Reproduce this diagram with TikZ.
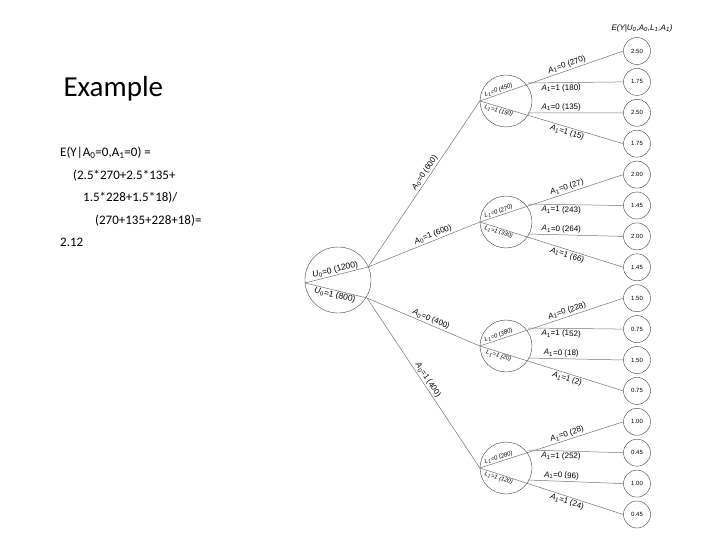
\documentclass[tikz,border=0pt]{standalone}
\usepackage{fontspec}
\setmainfont{Liberation Sans}
\newfontfamily\calibri{Carlito}
\usetikzlibrary{positioning}
\definecolor{linegray}{rgb}{0.45,0.45,0.45}
\newcommand{\Av}[1]{\textit{A}\textsubscript{#1}}
\newcommand{\Lv}[1]{\textit{L}\textsubscript{#1}}
\newcommand{\Uv}[1]{\textit{U}\textsubscript{#1}}
\begin{document}
\begin{tikzpicture}[x=1pt,y=-1pt,
    mid/.style={draw=black!75, circle, minimum size=52pt, inner sep=0pt},
    leaf/.style={draw=black!75, circle, minimum size=27pt, inner sep=0pt, font=\fontsize{6}{6}\selectfont},
    br/.style={draw=linegray, line width=0.5pt},
    lab/.style={font=\fontsize{8}{8}\selectfont, sloped, inner sep=1.5pt},
    inlab/.style={font=\fontsize{6}{6}\selectfont\itshape, sloped, inner sep=1pt}]
    \useasboundingbox (0,0) rectangle (720,540);
    % left text
    \node[anchor=base west, font=\calibri\fontsize{29}{29}\selectfont] at (60,97) {Example};
    \node[anchor=north west, font=\calibri\fontsize{13}{22.5}\selectfont, align=left, inner sep=0pt] at (60,147) {%
        E(Y|A\textsubscript{0}=0,A\textsubscript{1}=0) =\\
        \hspace*{13pt}(2.5*270+2.5*135+\\
        \hspace*{23pt}1.5*228+1.5*18)/\\
        \hspace*{35pt}(270+135+228+18)=\\
        2.12};
    % root
    \node[mid, minimum size=66pt] (root) at (338,280) {};
    \coordinate (rw) at (305,283);
    \coordinate (ru) at (368,267);
    \coordinate (rd) at (367,298);
    \draw[br] (rw) -- node[inlab, above, font=\fontsize{8.5}{8.5}\selectfont, pos=0.5] {\Uv{0}=0 (1200)} (ru);
    \draw[br] (rw) -- node[inlab, below, font=\fontsize{8.5}{8.5}\selectfont, pos=0.5] {\Uv{0}=1 (800)} (rd);
    % middle nodes
    \node[mid] (m1) at (506,101) {};
    \node[mid] (m2) at (506,222) {};
    \node[mid] (m3) at (506,346) {};
    \node[mid] (m4) at (506,468) {};
    \draw[br] (ru) -- node[lab, above, pos=0.55] {\Av{0}=0 (600)} (m1.west);
    \draw[br] (ru) -- node[lab, above, pos=0.6] {\Av{0}=1 (600)} (m2.west);
    \draw[br] (rd) -- node[lab, above, pos=0.55] {\Av{0}=0 (400)} (m3.west);
    \draw[br] (rd) -- node[lab, above, pos=0.5] {\Av{0}=1 (400)} (m4.west);
    % leaves
    \node[font=\fontsize{8}{8}\selectfont\itshape] at (642,28) {E(Y\textbar\Uv{0},\Av{0},\Lv{1},\Av{1})};
    \foreach \v [count=\i] in {2.50,1.75,2.50,1.75,2.00,1.45,2.00,1.45,1.50,0.75,1.50,0.75,1.00,0.45,1.00,0.45}
        \node[leaf] (l\i) at (637,{51+(\i-1)*30.9}) {\v};
    % second level
    \foreach \m/\a/\b/\c/\d/\na/\nb/\nc/\nd/\la/\lb in {%
        1/1/2/3/4/270/180/135/15/450/150,
        2/5/6/7/8/27/243/264/66/270/330,
        3/9/10/11/12/228/152/18/2/380/20,
        4/13/14/15/16/28/252/96/24/280/120}{
        \draw[br] (m\m.west) -- node[inlab, above, pos=0.14] {\Lv{1}=0 (\la)}
            node[lab, above, pos=0.62] {\Av{1}=0 (\na)} (l\a.west);
        \draw[br] (m\m.west) -- node[inlab, below, pos=0.14] {\Lv{1}=1 (\lb)}
            node[lab, below, pos=0.62] {\Av{1}=1 (\nd)} (l\d.west);
        \draw[br] (m\m.west) ++(48,-18) coordinate (h\m a) -- node[lab, below, pos=0.35] {\Av{1}=1 (\nb)} (l\b.west);
        \draw[br] (m\m.west) ++(48,12) coordinate (h\m b) -- node[lab, above, pos=0.35] {\Av{1}=0 (\nc)} (l\c.west);
    }
\end{tikzpicture}
\end{document}
